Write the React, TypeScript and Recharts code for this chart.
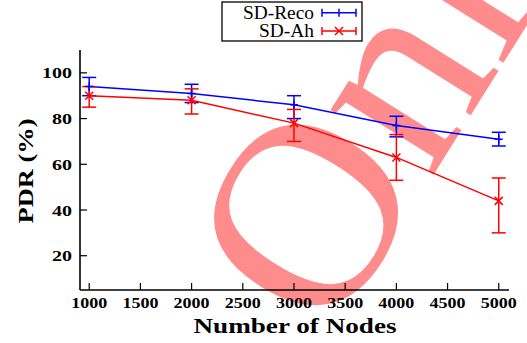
import { LineChart, Line, XAxis, YAxis, ErrorBar } from "recharts";

const nodeCounts = [1000, 2000, 3000, 4000, 5000];
const recoPdr = [94, 91, 86, 77, 71];
const recoLow = [90, 87, 80, 72, 68];
const recoHigh = [98, 95, 90, 81, 74];
const ahPdr = [90, 88, 78, 63, 44];
const ahLow = [85, 82, 70, 53, 30];
const ahHigh = [94, 93, 84, 73, 54];

const xTicks = [1000, 1500, 2000, 2500, 3000, 3500, 4000, 4500, 5000];
const yTicks = [20, 40, 60, 80, 100];

const rows = nodeCounts.map((n, i) => ({
  nodes: n,
  reco: recoPdr[i],
  recoErr: [recoPdr[i] - recoLow[i], recoHigh[i] - recoPdr[i]],
  ah: ahPdr[i],
  ahErr: [ahPdr[i] - ahLow[i], ahHigh[i] - ahPdr[i]],
}));

const SERIF = "'Liberation Serif', 'Times New Roman', serif";
const BLUE = "#0000ff";
const RED = "#ff0000";
const TICK = 7;

const BottomTick = ({ x, y, payload }: any) => (
  <g>
    <line x1={x} y1={y} x2={x} y2={y - TICK} stroke="#000" strokeWidth={1.2} />
    <text
      x={x}
      y={y + 18}
      textAnchor="middle"
      fontFamily={SERIF}
      fontWeight="bold"
      fontSize={15}
      textLength={String(payload.value).length * 9}
      lengthAdjust="spacingAndGlyphs"
    >
      {payload.value}
    </text>
  </g>
);

const TopTick = ({ x, y }: any) => (
  <line x1={x} y1={y} x2={x} y2={y + TICK} stroke="#000" strokeWidth={1.2} />
);

const LeftTick = ({ x, y, payload }: any) => (
  <g>
    <line x1={x} y1={y} x2={x + TICK} y2={y} stroke="#000" strokeWidth={1.2} />
    <text
      x={x - 8}
      y={y + 5.5}
      textAnchor="end"
      fontFamily={SERIF}
      fontWeight="bold"
      fontSize={15}
      textLength={String(payload.value).length * 10}
      lengthAdjust="spacingAndGlyphs"
    >
      {payload.value}
    </text>
  </g>
);

const RightTick = ({ x, y }: any) => (
  <line x1={x} y1={y} x2={x - TICK} y2={y} stroke="#000" strokeWidth={1.2} />
);

const PlusDot = ({ cx, cy }: any) => (
  <path
    d={`M${cx - 4},${cy}H${cx + 4}M${cx},${cy - 4}V${cy + 4}`}
    stroke={BLUE}
    strokeWidth={1.5}
    fill="none"
  />
);

const CrossDot = ({ cx, cy }: any) => (
  <path
    d={`M${cx - 4},${cy - 4}L${cx + 4},${cy + 4}M${cx - 4},${cy + 4}L${cx + 4},${cy - 4}`}
    stroke={RED}
    strokeWidth={1.5}
    fill="none"
  />
);

function LegendSample({ y, color, cross }: { y: number; color: string; cross: boolean }) {
  const x1 = 322;
  const x2 = 356;
  const cx = (x1 + x2) / 2;
  return (
    <g stroke={color} strokeWidth={1.5} fill="none">
      <line x1={x1} y1={y} x2={x2} y2={y} />
      <line x1={x1} y1={y - 4} x2={x1} y2={y + 4} />
      <line x1={x2} y1={y - 4} x2={x2} y2={y + 4} />
      {cross ? (
        <path d={`M${cx - 4},${y - 4}L${cx + 4},${y + 4}M${cx - 4},${y + 4}L${cx + 4},${y - 4}`} />
      ) : (
        <line x1={cx} y1={y - 4} x2={cx} y2={y + 4} />
      )}
    </g>
  );
}

export default function App() {
  return (
    <div style={{ position: "absolute", left: 0, top: 0, width: 527, height: 343, background: "#fff" }}>
      {/* watermark behind the plot */}
      <svg width={527} height={343} style={{ position: "absolute", left: 0, top: 0 }}>
        <text
          x={329}
          y={342}
          fontFamily={SERIF}
          fontSize={265}
          fill={RED}
          fillOpacity={0.45}
          transform="rotate(-58 329 342)"
        >
          Only
        </text>
      </svg>

      <div style={{ position: "absolute", left: 0, top: 0 }}>
        <LineChart width={527} height={343} data={rows} margin={{ top: 50, right: 18, bottom: 0, left: 0 }}>
          <XAxis
            xAxisId="bottom"
            dataKey="nodes"
            type="number"
            domain={[910, 5100]}
            ticks={xTicks}
            interval={0}
            height={53}
            tickSize={0}
            tickMargin={0}
            tickLine={false}
            axisLine={{ stroke: "#000", strokeWidth: 1.6 }}
            tick={<BottomTick />}
          />
          <XAxis
            xAxisId="top"
            orientation="top"
            dataKey="nodes"
            type="number"
            domain={[910, 5100]}
            ticks={xTicks}
            interval={0}
            height={0}
            tickSize={0}
            tickMargin={0}
            tickLine={false}
            axisLine={{ stroke: "#000", strokeWidth: 1.6 }}
            tick={<TopTick />}
          />
          <YAxis
            yAxisId="left"
            type="number"
            domain={[5, 110]}
            ticks={yTicks}
            interval={0}
            width={80}
            tickSize={0}
            tickMargin={0}
            tickLine={false}
            axisLine={{ stroke: "#000", strokeWidth: 1.6 }}
            tick={<LeftTick />}
          />
          <YAxis
            yAxisId="right"
            orientation="right"
            type="number"
            domain={[5, 110]}
            ticks={yTicks}
            interval={0}
            width={0}
            tickSize={0}
            tickMargin={0}
            tickLine={false}
            axisLine={{ stroke: "#000", strokeWidth: 1.6 }}
            tick={<RightTick />}
          />
          <Line
            xAxisId="bottom"
            yAxisId="left"
            dataKey="reco"
            stroke={BLUE}
            strokeWidth={1.5}
            dot={<PlusDot />}
            activeDot={false}
            isAnimationActive={false}
          >
            <ErrorBar dataKey="recoErr" width={7} stroke={BLUE} strokeWidth={1.5} isAnimationActive={false} />
          </Line>
          <Line
            xAxisId="bottom"
            yAxisId="left"
            dataKey="ah"
            stroke={RED}
            strokeWidth={1.5}
            dot={<CrossDot />}
            activeDot={false}
            isAnimationActive={false}
          >
            <ErrorBar dataKey="ahErr" width={7} stroke={RED} strokeWidth={1.5} isAnimationActive={false} />
          </Line>
        </LineChart>
      </div>

      {/* titles and legend */}
      <svg width={527} height={343} style={{ position: "absolute", left: 0, top: 0, pointerEvents: "none" }}>
        <text
          x={295}
          y={333}
          textAnchor="middle"
          fontFamily={SERIF}
          fontWeight="bold"
          fontSize={21}
          textLength={203}
          lengthAdjust="spacingAndGlyphs"
        >
          Number of Nodes
        </text>
        <text
          x={33}
          y={171}
          textAnchor="middle"
          fontFamily={SERIF}
          fontWeight="bold"
          fontSize={21}
          textLength={105}
          lengthAdjust="spacingAndGlyphs"
          transform="rotate(-90 33 171)"
        >
          PDR (%)
        </text>
        <rect x={222} y={2} width={140} height={39} fill="#fff" stroke="#000" strokeWidth={1.3} />
        <text x={314} y={18.5} textAnchor="end" fontFamily={SERIF} fontSize={18} textLength={71} lengthAdjust="spacingAndGlyphs">
          SD-Reco
        </text>
        <text x={314} y={37} textAnchor="end" fontFamily={SERIF} fontSize={18} textLength={55} lengthAdjust="spacingAndGlyphs">
          SD-Ah
        </text>
        <LegendSample y={12.7} color={BLUE} cross={false} />
        <LegendSample y={31} color={RED} cross={true} />
      </svg>
    </div>
  );
}
